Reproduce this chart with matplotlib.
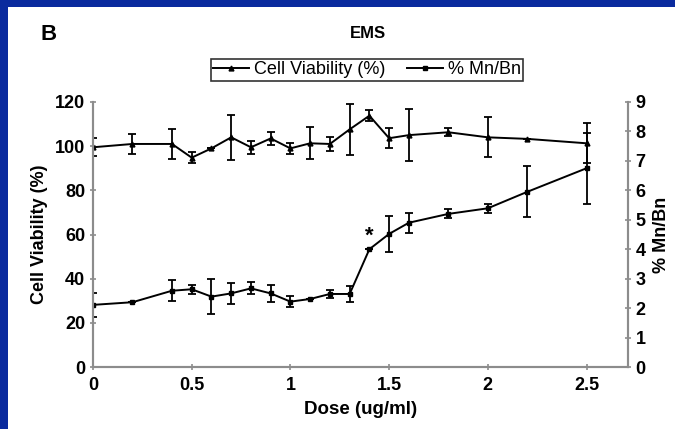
import matplotlib
matplotlib.use("Agg")
from matplotlib import pyplot as plt
from matplotlib.patches import Rectangle
from matplotlib.lines import Line2D

plt.rcParams['font.family'] = ['Liberation Sans', 'DejaVu Sans']
plt.rcParams['font.weight'] = 'bold'

# dose values (ug/ml)
doseCV = [0, 0.2, 0.4, 0.5, 0.6, 0.7, 0.8, 0.9, 1.0, 1.1, 1.2, 1.3, 1.4, 1.5, 1.6, 1.8, 2.0, 2.2, 2.5]
cellViab = [99.5, 101, 101, 94.8, 99, 104, 99.5, 103.5, 99, 101.3, 101, 107.6, 113.8, 103.6, 105, 106.3, 104, 103.3, 101.3]
cellErr = [4, 4.5, 6.8, 2.5, 0, 10.3, 3, 3, 2.5, 7.3, 3, 11.5, 2.5, 4.5, 11.7, 1.7, 9, 0, 9]

doseMN = [0, 0.2, 0.4, 0.5, 0.6, 0.7, 0.8, 0.9, 1.0, 1.1, 1.2, 1.3, 1.4, 1.5, 1.6, 1.8, 2.0, 2.2, 2.5]
mnbn = [2.11, 2.2, 2.59, 2.64, 2.39, 2.5, 2.67, 2.5, 2.22, 2.31, 2.48, 2.48, 4.0, 4.52, 4.9, 5.2, 5.39, 5.95, 6.75]
mnbnErr = [0.4, 0, 0.35, 0.15, 0.59, 0.36, 0.2, 0.28, 0.18, 0, 0.13, 0.27, 0, 0.6, 0.34, 0.15, 0.15, 0.87, 1.2]

xTicks = [0, 0.5, 1, 1.5, 2, 2.5]
xTickLabels = ['0', '0.5', '1', '1.5', '2', '2.5']

W, H = 675, 429
blue = '#0a2a9e'
fig = plt.figure(figsize=(W/100, H/100), dpi=100)
fig.patch.set_facecolor('white')
# blue frame strips (left and top)
fig.patches.append(Rectangle((0, 0), 8/W, 1, transform=fig.transFigure,
                             facecolor=blue, edgecolor='none', zorder=-1))
fig.patches.append(Rectangle((0, 1 - 7/H), 1, 7/H, transform=fig.transFigure,
                             facecolor=blue, edgecolor='none', zorder=-1))

ax = fig.add_axes([93/W, 1 - 367/H, 535/W, 265/H])
ax2 = ax.twinx()

ax.errorbar(doseCV, cellViab, yerr=cellErr, color='black', lw=1.4, marker='^',
            ms=3.5, capsize=3, elinewidth=1.3, capthick=1.3)
ax2.errorbar(doseMN, mnbn, yerr=mnbnErr, color='black', lw=1.4, marker='s',
             ms=3.5, capsize=3, elinewidth=1.3, capthick=1.3)
ax2.text(1.4, 4.45, '*', fontsize=16, ha='center', va='center')

ax.set_xlim(0, 2.71)
ax.set_ylim(0, 120)
ax2.set_ylim(0, 9)
ax.set_xticks(xTicks)
ax.set_xticklabels(xTickLabels)
ax.set_yticks(range(0, 121, 20))
ax2.set_yticks(range(0, 10))

for a in (ax, ax2):
    for s in a.spines.values():
        s.set_color('#8c8c8c')
        s.set_linewidth(1.5)
    a.spines['top'].set_visible(False)
    a.tick_params(direction='inout', length=5, width=1.2, color='#8c8c8c',
                  labelsize=13, pad=3)
ax.tick_params(axis='x', pad=5)

ax.set_xlabel('Dose (ug/ml)', fontsize=13.5, fontweight='bold', labelpad=5)
ax.set_ylabel('Cell Viability (%)', fontsize=13, fontweight='bold', labelpad=5)
ax2.set_ylabel('% Mn/Bn', fontsize=13, fontweight='bold', labelpad=5)

fig.text(40/W, 1 - 35/H, 'B', fontsize=16, fontweight='bold', va='center', ha='left')
fig.text(368/W, 1 - 33/H, 'EMS', fontsize=12, fontweight='bold', va='center', ha='center')

h1 = Line2D([], [], color='black', lw=1.4, marker='^', ms=3.5)
h2 = Line2D([], [], color='black', lw=1.4, marker='s', ms=3.5)
leg = fig.legend([h1, h2], ['Cell Viability (%)', '% Mn/Bn'], loc='center',
                 bbox_to_anchor=(367/W, 1 - 70/H), ncol=2, fontsize=13,
                 frameon=True, fancybox=False, handlelength=2.0, handletextpad=0.25,
                 columnspacing=1.2, borderpad=0.12, borderaxespad=0)
leg.get_frame().set_edgecolor('black')
leg.get_frame().set_linewidth(1.2)
for t in leg.get_texts():
    t.set_fontweight('normal')

fig.savefig('out.png', dpi=100, facecolor='white')
